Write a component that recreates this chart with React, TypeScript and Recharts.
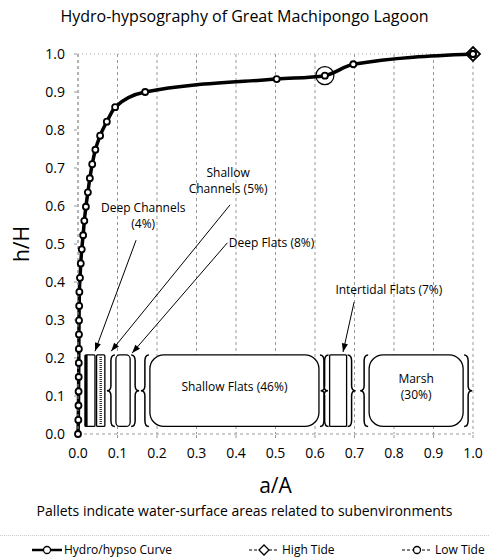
import {
    CartesianGrid,
    ComposedChart,
    Label,
    Line,
    ReferenceArea,
    ReferenceDot,
    ReferenceLine,
    Scatter,
    XAxis,
    YAxis,
} from "recharts";

// hypsometric curve, a/A vs h/H
const curveA = [
    0, 0.0008, 0.0012, 0.0015, 0.0018, 0.002, 0.0022, 0.0024, 0.0026, 0.003,
    0.0035, 0.005, 0.007, 0.0095, 0.013, 0.016, 0.02, 0.025, 0.03, 0.036,
    0.044, 0.056, 0.073, 0.094, 0.17, 0.503, 0.625, 0.697, 1.0,
];
const curveH = [
    0, 0.037, 0.075, 0.112, 0.15, 0.187, 0.224, 0.262, 0.299, 0.337, 0.374,
    0.411, 0.449, 0.486, 0.523, 0.561, 0.598, 0.636, 0.673, 0.71, 0.748,
    0.785, 0.822, 0.86, 0.9, 0.934, 0.943, 0.973, 1.0,
];
const highTide = [{ a: 1.0, h: 1.0 }];
const lowTide = [{ a: 0.625, h: 0.943 }];

const ticks = [0, 0.1, 0.2, 0.3, 0.4, 0.5, 0.6, 0.7, 0.8, 0.9, 1.0];

// pallets (subenvironment water-surface areas)
const palletStart = [0.018, 0.047, 0.096, 0.182, 0.637, 0.737];
const palletEnd = [0.043, 0.068, 0.132, 0.61, 0.68, 0.975];
const palletBottom = 0.02;
const palletTop = 0.208;
const palletNames = ["", "", "", "Shallow Flats (46%)", "", "Marsh|(30%)"];

// callouts: label position + arrow from -> to
const calloutText = [
    "Deep Channels|(4%)",
    "Shallow|Channels (5%)",
    "Deep Flats (8%)",
    "Intertidal Flats (7%)",
];
const calloutA = [0.165, 0.38, 0.49, 0.787];
const calloutH = [0.574, 0.668, 0.503, 0.379];
const arrowFromA = [0.147, 0.385, 0.378, 0.699];
const arrowFromH = [0.51, 0.603, 0.503, 0.347];
const arrowToA = [0.043, 0.084, 0.137, 0.671];
const arrowToH = [0.218, 0.218, 0.213, 0.216];

const curveData = curveA.map((a, i) => ({ a, h: curveH[i] }));

const FONT = "'Open Sans', 'DejaVu Sans', sans-serif";

function brace(x: number, top: number, bot: number, dir: number) {
    // dir -1 = "{" tip to the left, 1 = "}" tip to the right
    const w = 4 * -dir;
    const mid = (top + bot) / 2;
    return `M${x + w},${top} Q${x},${top} ${x},${top + 6} L${x},${mid - 5} Q${x},${mid} ${x - w},${mid} Q${x},${mid} ${x},${mid + 5} L${x},${bot - 6} Q${x},${bot} ${x + w},${bot}`;
}

function PalletShape(props: any) {
    const { x, y, width, height, index } = props;
    const lines = (palletNames[index] || "").split("|").filter((s) => s);
    const rx = index === 3 ? 14 : index === 5 ? 14 : index === 2 ? 4 : 1;
    const cx = x + width / 2;
    const cy = y + height / 2;
    return (
        <g>
            <rect
                x={x}
                y={y}
                width={width}
                height={height}
                rx={rx}
                fill="#fff"
                stroke="#000"
                strokeWidth={1.3}
            />
            {index === 0 && (
                <line x1={x + 1} y1={y} x2={x + 1} y2={y + height} stroke="#000" strokeWidth={3} />
            )}
            {index === 1 && (
                <line x1={x + width / 2} y1={y + 2} x2={x + width / 2} y2={y + height - 2} stroke="#333" strokeWidth={2.5} strokeDasharray="1 1" />
            )}
            {index >= 2 && (
                <>
                    <path d={brace(x - 5, y, y + height, -1)} fill="none" stroke="#000" strokeWidth={1.5} />
                    <path d={brace(x + width + 5, y, y + height, 1)} fill="none" stroke="#000" strokeWidth={1.5} />
                </>
            )}
            {lines.map((t, i) => (
                <text
                    key={i}
                    x={cx}
                    y={cy - 4 + (i - (lines.length - 1) / 2) * 16}
                    textAnchor="middle"
                    dominantBaseline="central"
                    fontSize={12}
                    fontFamily={FONT}
                    fill="#000"
                >
                    {t}
                </text>
            ))}
        </g>
    );
}

function CalloutLabel(props: any) {
    const { cx, cy, text } = props;
    const lines = (text as string).split("|");
    return (
        <g>
            {lines.map((t, i) => (
                <text
                    key={i}
                    x={cx}
                    y={cy + (i - (lines.length - 1) / 2) * 16}
                    textAnchor="middle"
                    dominantBaseline="central"
                    fontSize={12}
                    fontFamily={FONT}
                    fill="#000"
                >
                    {t}
                </text>
            ))}
        </g>
    );
}

function Arrow(props: any) {
    const { x1, y1, x2, y2 } = props;
    const ang = Math.atan2(y2 - y1, x2 - x1);
    const len = 9;
    const sp = 0.35;
    const p1 = [x2 - len * Math.cos(ang - sp), y2 - len * Math.sin(ang - sp)];
    const p2 = [x2 - len * Math.cos(ang + sp), y2 - len * Math.sin(ang + sp)];
    return (
        <g>
            <line x1={x1} y1={y1} x2={x2} y2={y2} stroke="#000" strokeWidth={1} />
            <polygon points={`${x2},${y2} ${p1[0]},${p1[1]} ${p2[0]},${p2[1]}`} fill="#000" />
        </g>
    );
}

function Diamond(props: any) {
    const { cx, cy } = props;
    const s = 7;
    return (
        <g>
            <polygon
                points={`${cx},${cy - s} ${cx + s},${cy} ${cx},${cy + s} ${cx - s},${cy}`}
                fill="none"
                stroke="#000"
                strokeWidth={1.8}
            />
            <circle cx={cx} cy={cy} r={3} fill="#fff" stroke="#000" strokeWidth={1.8} />
        </g>
    );
}

function OpenCircle(props: any) {
    const { cx, cy } = props;
    return (
        <g>
            <circle cx={cx} cy={cy} r={9} fill="none" stroke="#000" strokeWidth={1.2} />
        </g>
    );
}

function LegendIcon({ kind }: { kind: string }) {
    return (
        <svg width={30} height={12} style={{ verticalAlign: "middle" }}>
            <line
                x1={0}
                y1={6}
                x2={30}
                y2={6}
                stroke="#000"
                strokeWidth={kind === "curve" ? 2.5 : 1.2}
                strokeDasharray={kind === "curve" ? undefined : "3 2"}
            />
            {kind === "high" ? (
                <polygon points="15,1 20,6 15,11 10,6" fill="#fff" stroke="#000" strokeWidth={1.3} />
            ) : (
                <circle cx={15} cy={6} r={3.5} fill="#fff" stroke="#000" strokeWidth={1.3} />
            )}
        </svg>
    );
}

const legendRow = {
    position: "absolute" as const,
    top: 543,
    fontSize: 12,
    lineHeight: "14px",
    whiteSpace: "nowrap" as const,
    display: "flex",
    alignItems: "center",
};

function App() {
    return (
        <div
            style={{
                position: "absolute",
                left: 0,
                top: 0,
                width: 489,
                height: 560,
                background: "#fff",
                fontFamily: FONT,
                overflow: "hidden",
            }}
        >
            <div
                style={{
                    position: "absolute",
                    top: 5,
                    left: 0,
                    width: 489,
                    textAlign: "center",
                    fontSize: 16,
                }}
            >
                Hydro-hypsography of Great Machipongo Lagoon
            </div>
            <ComposedChart
                width={489}
                height={560}
                margin={{ top: 54, right: 16, bottom: 96, left: 8 }}
                style={{ position: "absolute", left: 0, top: 0 }}
            >
                <CartesianGrid
                    horizontal={false}
                    stroke="#999"
                    strokeDasharray="3 3"
                />
                <XAxis
                    dataKey="a"
                    type="number"
                    domain={[0, 1]}
                    ticks={ticks}
                    tickFormatter={(v: number) => v.toFixed(1)}
                    tick={{ fontSize: 14, fill: "#000", fontFamily: FONT }}
                    tickSize={4}
                    tickMargin={10}
                    stroke="#999"
                    strokeDasharray="3 3"
                    height={30}
                    allowDuplicatedCategory={false}
                >
                    <Label
                        value="a/A"
                        position="bottom"
                        offset={14}
                        style={{ fontSize: 21, fill: "#000", fontFamily: FONT }}
                    />
                </XAxis>
                <YAxis
                    type="number"
                    domain={[0, 1]}
                    ticks={ticks}
                    tickFormatter={(v: number) => v.toFixed(1)}
                    tick={{ fontSize: 14, fill: "#000", fontFamily: FONT }}
                    tickSize={4}
                    tickMargin={9}
                    stroke="#999"
                    strokeDasharray="3 3"
                    width={70}
                >
                    <Label
                        value="h/H"
                        angle={-90}
                        position="insideLeft"
                        offset={14}
                        style={{ fontSize: 21, fill: "#000", fontFamily: FONT, textAnchor: "middle" }}
                    />
                </YAxis>
                <ReferenceLine y={1} stroke="#aaa" strokeDasharray="1 3" />
                {palletStart.map((s, i) => (
                    <ReferenceArea
                        key={`p${i}`}
                        x1={s}
                        x2={palletEnd[i]}
                        y1={palletBottom}
                        y2={palletTop}
                        shape={(p: any) => <PalletShape {...p} index={i} />}
                    />
                ))}
                {arrowFromA.map((fa, i) => (
                    <ReferenceLine
                        key={`ar${i}`}
                        segment={[
                            { x: fa, y: arrowFromH[i] },
                            { x: arrowToA[i], y: arrowToH[i] },
                        ]}
                        shape={(p: any) => <Arrow {...p} />}
                    />
                ))}
                {calloutText.map((t, i) => (
                    <ReferenceDot
                        key={`c${i}`}
                        x={calloutA[i]}
                        y={calloutH[i]}
                        r={0}
                        shape={(p: any) => <CalloutLabel {...p} text={t} />}
                    />
                ))}
                <Line
                    data={curveData}
                    dataKey="h"
                    type="monotone"
                    stroke="#000"
                    strokeWidth={3.5}
                    dot={{ r: 3, stroke: "#000", strokeWidth: 1.8, fill: "#fff" }}
                    isAnimationActive={false}
                />
                <Scatter
                    data={highTide}
                    dataKey="h"
                    shape={(p: any) => <Diamond {...p} />}
                    isAnimationActive={false}
                />
                <Scatter
                    data={lowTide}
                    dataKey="h"
                    shape={(p: any) => <OpenCircle {...p} />}
                    isAnimationActive={false}
                />
            </ComposedChart>
            <div
                style={{
                    position: "absolute",
                    top: 501,
                    left: 0,
                    width: 489,
                    textAlign: "center",
                    fontSize: 14,
                }}
            >
                Pallets indicate water-surface areas related to subenvironments
            </div>
            <div
                style={{
                    position: "absolute",
                    top: 535,
                    left: 0,
                    width: 489,
                    borderTop: "1px dotted #ccc",
                }}
            />
            <div style={{ ...legendRow, left: 32 }}>
                <LegendIcon kind="curve" />
                <span style={{ marginLeft: 2 }}>Hydro/hypso Curve</span>
            </div>
            <div style={{ ...legendRow, left: 249 }}>
                <LegendIcon kind="high" />
                <span style={{ marginLeft: 3 }}>High Tide</span>
            </div>
            <div style={{ ...legendRow, left: 402 }}>
                <LegendIcon kind="low" />
                <span style={{ marginLeft: 3 }}>Low Tide</span>
            </div>
        </div>
    );
}

export default App;
